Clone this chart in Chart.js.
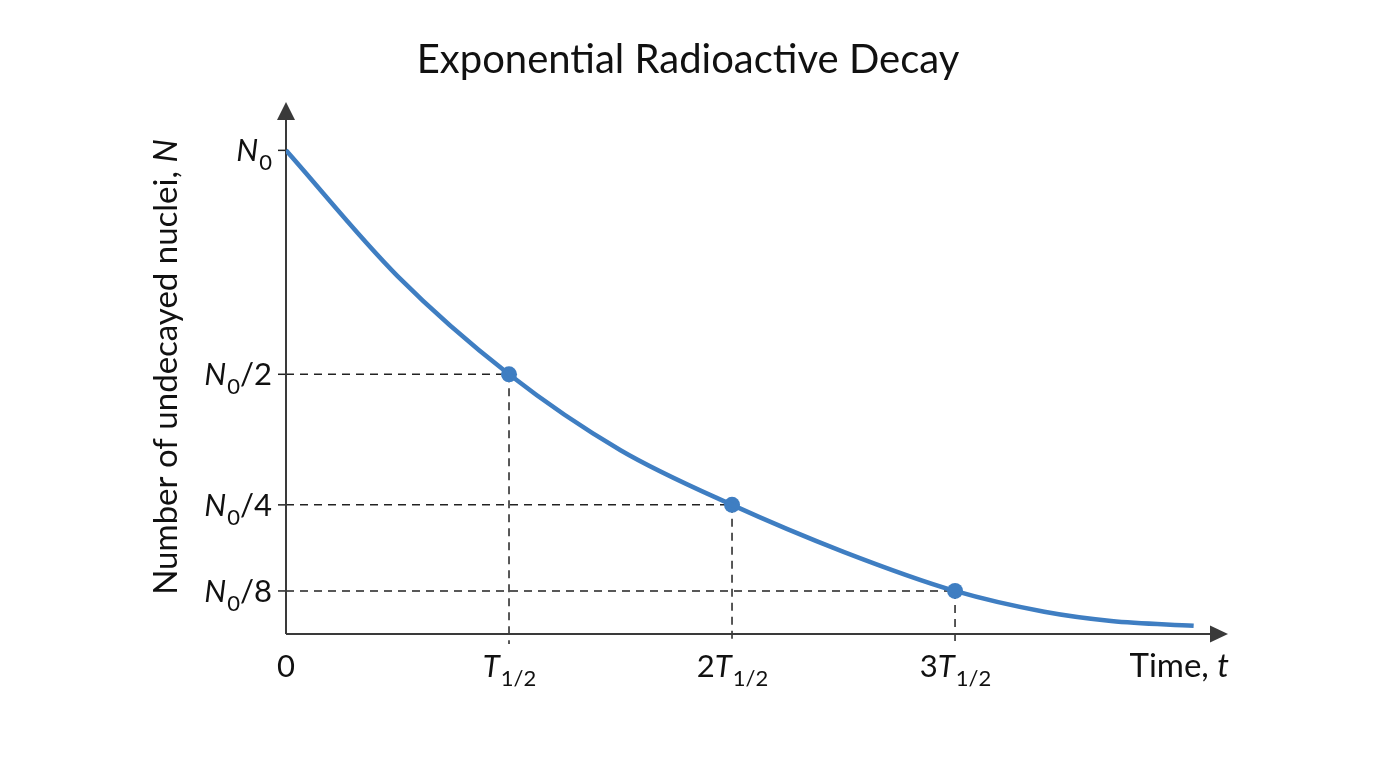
<!DOCTYPE html>
<html lang="en">
<head>
  <meta charset="UTF-8" />
  <title>Exponential Radioactive Decay</title>
  <script src="https://cdn.jsdelivr.net/npm/chart.js"></script>
  <style>
    html, body {
      margin: 0;
      padding: 0;
      background: #ffffff;
    }
    .wrap {
      width: 1376px;
      height: 768px;
      position: relative;
    }
  </style>
</head>
<body>
  <div class="wrap">
    <canvas id="decayChart"></canvas>
  </div>

  <script>
    // curve (t in half-lives, N on the drawn axis, N0 = 1)
    const curveT = [0, 0.5, 1, 1.5, 2, 2.5, 3, 3.4, 3.7, 4.07];
    const curveN = [1.0, 0.74, 0.537, 0.38, 0.267, 0.17, 0.089, 0.046, 0.027, 0.017];

    // marked half-life points
    const halfT = [1, 2, 3];
    const halfN = [0.537, 0.267, 0.089];

    // tick labels: [plain prefix, italic letter, subscript, suffix]
    const yTickValues = [1, 0.537, 0.267, 0.089];
    const yTickLabels = [['', 'N', '0', ''], ['', 'N', '0', '/2'], ['', 'N', '0', '/4'], ['', 'N', '0', '/8']];
    const xTickValues = [0, 1, 2, 3];
    const xTickLabels = [['0', '', '', ''], ['', 'T', '1/2', ''], ['2', 'T', '1/2', ''], ['3', 'T', '1/2', '']];

    const FONT = 'Lato, "Open Sans", sans-serif';
    const BLUE = '#3f7ec2';
    const INK = '#3a3a3a';

    // draw label parts: prefix, italic, subscript, suffix
    function richWidth(ctx, parts, size) {
      let w = 0;
      ctx.font = size + 'px ' + FONT; w += ctx.measureText(parts[0]).width;
      ctx.font = 'italic ' + size + 'px ' + FONT; w += ctx.measureText(parts[1]).width;
      ctx.font = Math.round(size * 0.7) + 'px ' + FONT; w += ctx.measureText(parts[2]).width;
      ctx.font = size + 'px ' + FONT; w += ctx.measureText(parts[3]).width;
      return w;
    }

    function drawRich(ctx, parts, x, y, size, align) {
      const w = richWidth(ctx, parts, size);
      let cx = align === 'right' ? x - w : align === 'center' ? x - w / 2 : x;
      ctx.textBaseline = 'alphabetic';
      ctx.textAlign = 'left';
      ctx.font = size + 'px ' + FONT;
      ctx.fillText(parts[0], cx, y); cx += ctx.measureText(parts[0]).width;
      ctx.font = 'italic ' + size + 'px ' + FONT;
      ctx.fillText(parts[1], cx, y); cx += ctx.measureText(parts[1]).width + (parts[1] ? 1 : 0);
      ctx.font = Math.round(size * 0.7) + 'px ' + FONT;
      ctx.fillText(parts[2], cx, y + size * 0.28); cx += ctx.measureText(parts[2]).width;
      ctx.font = size + 'px ' + FONT;
      ctx.fillText(parts[3], cx, y);
    }

    const decayDecor = {
      id: 'decayDecor',
      beforeDatasetsDraw(chart) {
        const ctx = chart.ctx;
        const xs = chart.scales.x, ys = chart.scales.y;
        const x0 = xs.getPixelForValue(0), y0 = ys.getPixelForValue(0);

        // dashed guides
        ctx.save();
        ctx.strokeStyle = '#222';
        ctx.lineWidth = 1.5;
        ctx.setLineDash([8, 6]);
        halfT.forEach((t, i) => {
          const px = xs.getPixelForValue(t), py = ys.getPixelForValue(halfN[i]);
          ctx.beginPath();
          ctx.moveTo(x0, py); ctx.lineTo(px, py);
          ctx.moveTo(px, py); ctx.lineTo(px, y0 + 10);
          ctx.stroke();
        });
        ctx.setLineDash([]);

        // y ticks
        yTickValues.forEach(v => {
          const py = ys.getPixelForValue(v);
          ctx.beginPath(); ctx.moveTo(x0 - 8, py); ctx.lineTo(x0, py); ctx.stroke();
        });

        // axes with arrowheads
        ctx.strokeStyle = INK;
        ctx.fillStyle = INK;
        ctx.lineWidth = 2;
        const top = chart.chartArea.top, right = chart.chartArea.right;
        ctx.beginPath();
        ctx.moveTo(x0, y0); ctx.lineTo(x0, top + 14);
        ctx.moveTo(x0, y0); ctx.lineTo(right - 14, y0);
        ctx.stroke();
        ctx.beginPath();
        ctx.moveTo(x0, top); ctx.lineTo(x0 - 9, top + 18); ctx.lineTo(x0 + 9, top + 18); ctx.closePath();
        ctx.fill();
        ctx.beginPath();
        ctx.moveTo(right, y0); ctx.lineTo(right - 18, y0 - 8.5); ctx.lineTo(right - 18, y0 + 8.5); ctx.closePath();
        ctx.fill();
        ctx.restore();
      },
      afterDraw(chart) {
        const ctx = chart.ctx;
        const xs = chart.scales.x, ys = chart.scales.y;
        const x0 = xs.getPixelForValue(0), y0 = ys.getPixelForValue(0);
        ctx.save();
        ctx.fillStyle = '#111';

        // title
        ctx.font = '40px ' + FONT;
        ctx.textAlign = 'center';
        ctx.textBaseline = 'alphabetic';
        ctx.fillText('Exponential Radioactive Decay', 688, 73);

        // tick labels
        yTickValues.forEach((v, i) => {
          drawRich(ctx, yTickLabels[i], x0 - 15, ys.getPixelForValue(v) + 11, 31, 'right');
        });
        xTickValues.forEach((v, i) => {
          drawRich(ctx, xTickLabels[i], xs.getPixelForValue(v), y0 + 43, 31, 'center');
        });

        // axis titles
        drawRich(ctx, ['Time, ', 't', '', ''], chart.chartArea.right + 1, y0 + 43, 33, 'right');
        ctx.save();
        ctx.translate(177, 367);
        ctx.rotate(-Math.PI / 2);
        drawRich(ctx, ['Number of undecayed nuclei, ', 'N', '', ''], 0, 0, 33, 'center');
        ctx.restore();

        ctx.restore();
      }
    };

    const ctx = document.getElementById('decayChart').getContext('2d');
    new Chart(ctx, {
      type: 'line',
      data: {
        datasets: [
          {
            label: 'N(t)',
            data: curveT.map((t, i) => ({ x: t, y: curveN[i] })),
            borderColor: BLUE,
            borderWidth: 4.5,
            pointRadius: 0,
            cubicInterpolationMode: 'monotone',
            fill: false
          },
          {
            label: 'half-lives',
            data: halfT.map((t, i) => ({ x: t, y: halfN[i] })),
            showLine: false,
            pointRadius: 8,
            pointBackgroundColor: BLUE,
            pointBorderColor: BLUE,
            pointBorderWidth: 0
          }
        ]
      },
      options: {
        responsive: true,
        maintainAspectRatio: false,
        animation: false,
        layout: { padding: { left: 286, right: 148, top: 102, bottom: 134 } },
        plugins: {
          legend: { display: false },
          tooltip: { enabled: false }
        },
        scales: {
          x: { type: 'linear', min: 0, max: 4.224, display: false },
          y: { type: 'linear', min: 0, max: 1.1, display: false }
        }
      },
      plugins: [decayDecor]
    });
  </script>
</body>
</html>
